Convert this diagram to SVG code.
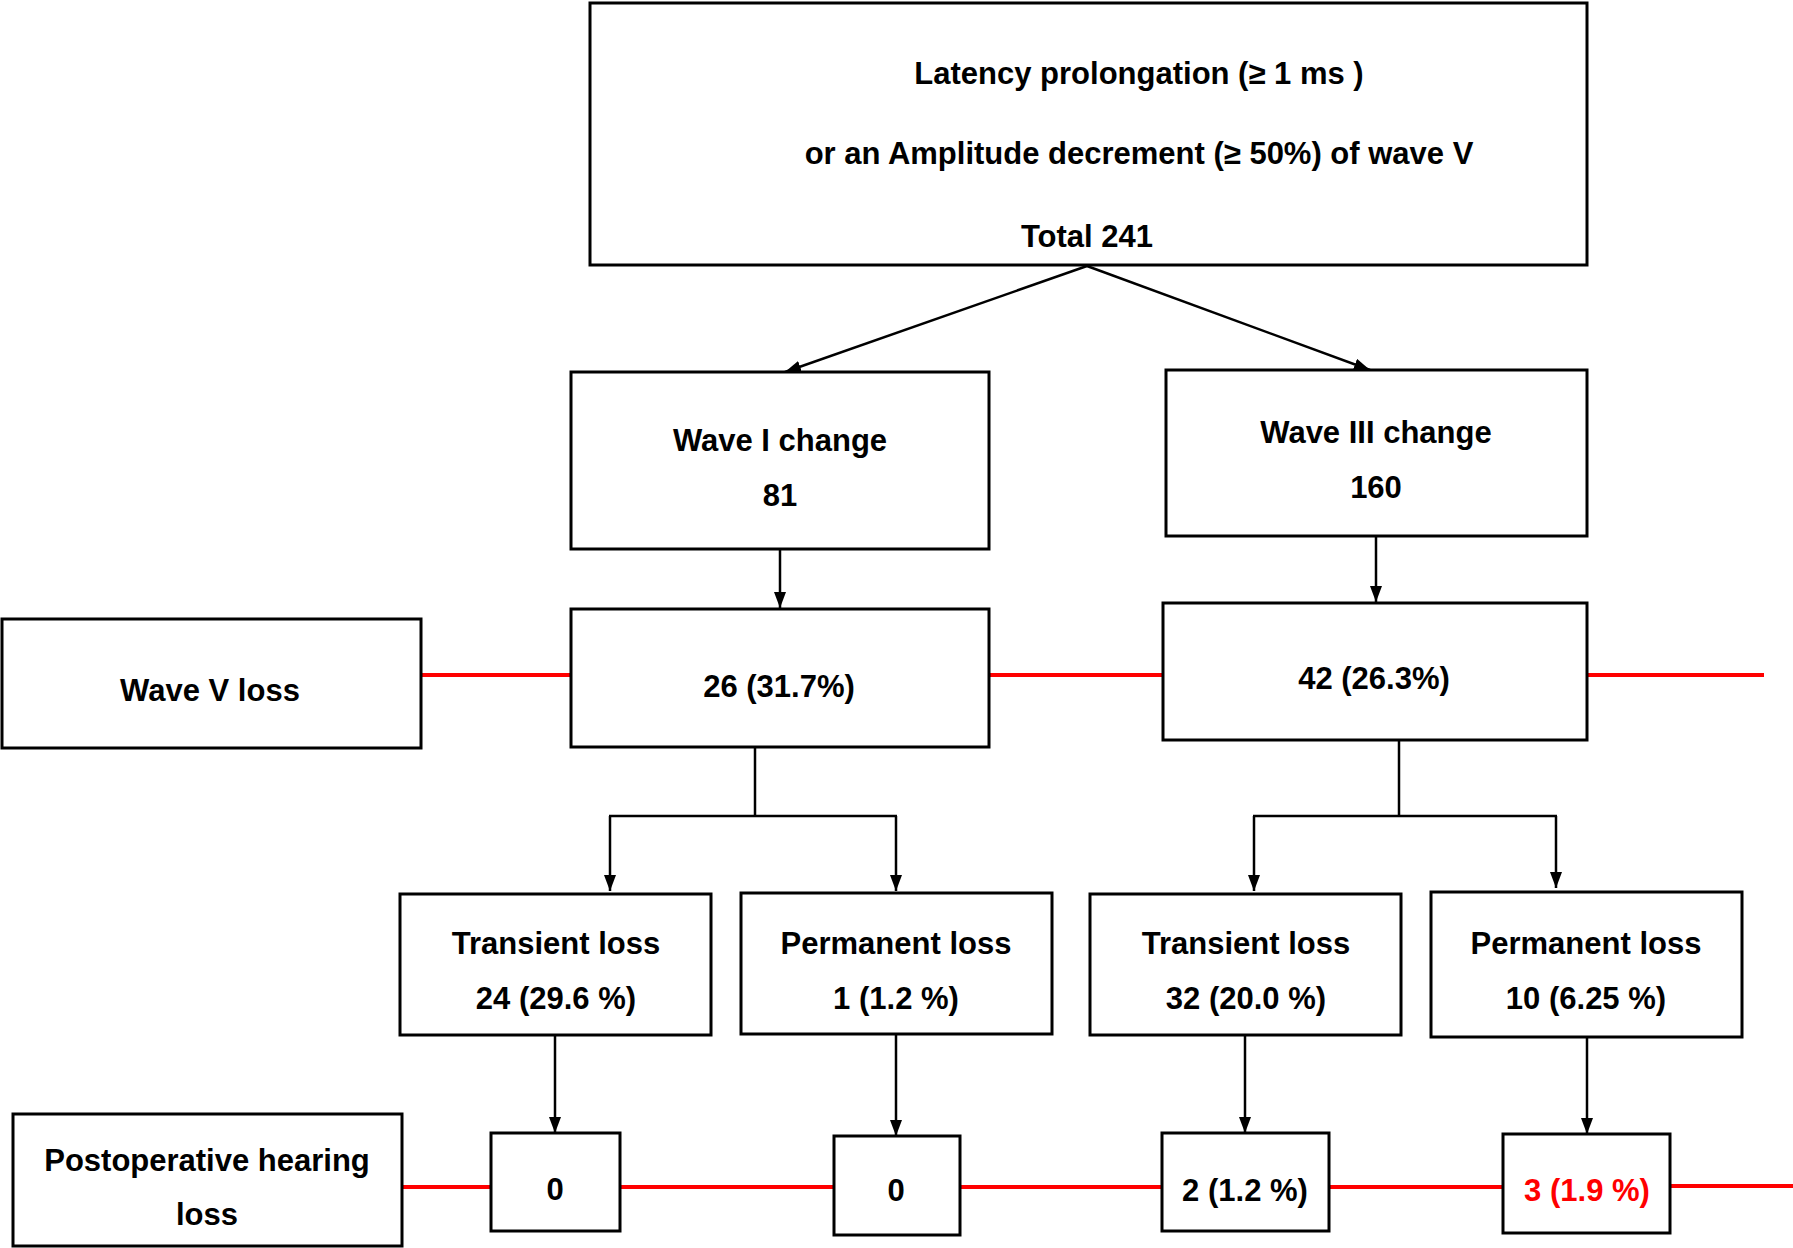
<svg xmlns="http://www.w3.org/2000/svg" width="1793" height="1248" viewBox="0 0 1793 1248">
<defs>
<marker id="ah" viewBox="0 0 16 12" refX="16" refY="6" markerWidth="16" markerHeight="12" markerUnits="userSpaceOnUse" orient="auto">
<path d="M0,0 L16,6 L0,12 Z" fill="#000"/>
</marker>
<style>
.box{fill:#fff;stroke:#000;stroke-width:3}
.t{font-family:"Liberation Sans",Arial,sans-serif;font-weight:bold;font-size:31px;fill:#000;text-anchor:middle}
.red{fill:#ff0000}
.ln{stroke:#000;stroke-width:2.5;fill:none}
.rl{stroke:#ff0000;stroke-width:4;fill:none}
</style>
</defs>
<rect width="1793" height="1248" fill="#fff"/>
<g id="connectors">
<line class="rl" x1="421" y1="675" x2="571" y2="675"/>
<line class="rl" x1="989" y1="675" x2="1163" y2="675"/>
<line class="rl" x1="1587" y1="675" x2="1764" y2="675"/>
<line class="rl" x1="402" y1="1187" x2="491" y2="1187"/>
<line class="rl" x1="620" y1="1187" x2="834" y2="1187"/>
<line class="rl" x1="960" y1="1187" x2="1162" y2="1187"/>
<line class="rl" x1="1329" y1="1187" x2="1503" y2="1187"/>
<line class="rl" x1="1670" y1="1186" x2="1793" y2="1186"/>
<line class="ln" x1="1087" y1="266" x2="785" y2="372" marker-end="url(#ah)"/>
<line class="ln" x1="1087" y1="266" x2="1370" y2="370" marker-end="url(#ah)"/>
<line class="ln" x1="780" y1="549" x2="780" y2="608" marker-end="url(#ah)"/>
<line class="ln" x1="1376" y1="536" x2="1376" y2="602" marker-end="url(#ah)"/>
<polyline class="ln" points="755,740 755,816"/>
<line class="ln" x1="610" y1="816" x2="610" y2="891" marker-end="url(#ah)"/>
<line class="ln" x1="896" y1="816" x2="896" y2="891" marker-end="url(#ah)"/>
<line class="ln" x1="609" y1="816" x2="897" y2="816"/>
<polyline class="ln" points="1399,740 1399,816"/>
<line class="ln" x1="1254" y1="816" x2="1254" y2="891" marker-end="url(#ah)"/>
<line class="ln" x1="1556" y1="816" x2="1556" y2="888" marker-end="url(#ah)"/>
<line class="ln" x1="1253" y1="816" x2="1557" y2="816"/>
<line class="ln" x1="555" y1="1035" x2="555" y2="1133" marker-end="url(#ah)"/>
<line class="ln" x1="896" y1="1034" x2="896" y2="1136" marker-end="url(#ah)"/>
<line class="ln" x1="1245" y1="1035" x2="1245" y2="1133" marker-end="url(#ah)"/>
<line class="ln" x1="1587" y1="1037" x2="1587" y2="1134" marker-end="url(#ah)"/>
</g>
<g id="n-top">
<rect class="box" x="590" y="3" width="997" height="262"/>
<text class="t" x="1139" y="84">Latency prolongation (≥ 1 ms )</text>
<text class="t" x="1139" y="164">or an Amplitude decrement (≥ 50%) of wave V</text>
<text class="t" x="1087" y="247">Total 241</text>
</g>
<g id="n-wave1">
<rect class="box" x="571" y="372" width="418" height="177"/>
<text class="t" x="780" y="451">Wave I change</text>
<text class="t" x="780" y="506">81</text>
</g>
<g id="n-wave3">
<rect class="box" x="1166" y="370" width="421" height="166"/>
<text class="t" x="1376" y="443">Wave III change</text>
<text class="t" x="1376" y="498">160</text>
</g>
<g id="n-wave5loss">
<rect class="box" x="2" y="619" width="419" height="129"/>
<text class="t" x="210" y="701">Wave V loss</text>
</g>
<g id="n-26">
<rect class="box" x="571" y="609" width="418" height="138"/>
<text class="t" x="779" y="697">26 (31.7%)</text>
</g>
<g id="n-42">
<rect class="box" x="1163" y="603" width="424" height="137"/>
<text class="t" x="1374" y="689">42 (26.3%)</text>
</g>
<g id="n-trans1">
<rect class="box" x="400" y="894" width="311" height="141"/>
<text class="t" x="556" y="954">Transient loss</text>
<text class="t" x="556" y="1009">24 (29.6 %)</text>
</g>
<g id="n-perm1">
<rect class="box" x="741" y="893" width="311" height="141"/>
<text class="t" x="896" y="954">Permanent loss</text>
<text class="t" x="896" y="1009">1 (1.2 %)</text>
</g>
<g id="n-trans2">
<rect class="box" x="1090" y="894" width="311" height="141"/>
<text class="t" x="1246" y="954">Transient loss</text>
<text class="t" x="1246" y="1009">32 (20.0 %)</text>
</g>
<g id="n-perm2">
<rect class="box" x="1431" y="892" width="311" height="145"/>
<text class="t" x="1586" y="954">Permanent loss</text>
<text class="t" x="1586" y="1009">10 (6.25 %)</text>
</g>
<g id="n-postop">
<rect class="box" x="13" y="1114" width="389" height="132"/>
<text class="t" x="207" y="1171">Postoperative hearing</text>
<text class="t" x="207" y="1225">loss</text>
</g>
<g id="n-r1">
<rect class="box" x="491" y="1133" width="129" height="98"/>
<text class="t" x="555" y="1200">0</text>
</g>
<g id="n-r2">
<rect class="box" x="834" y="1136" width="126" height="99"/>
<text class="t" x="896" y="1201">0</text>
</g>
<g id="n-r3">
<rect class="box" x="1162" y="1133" width="167" height="98"/>
<text class="t" x="1245" y="1201">2 (1.2 %)</text>
</g>
<g id="n-r4">
<rect class="box" x="1503" y="1134" width="167" height="99"/>
<text class="t red" x="1587" y="1201">3 (1.9 %)</text>
</g>
</svg>
